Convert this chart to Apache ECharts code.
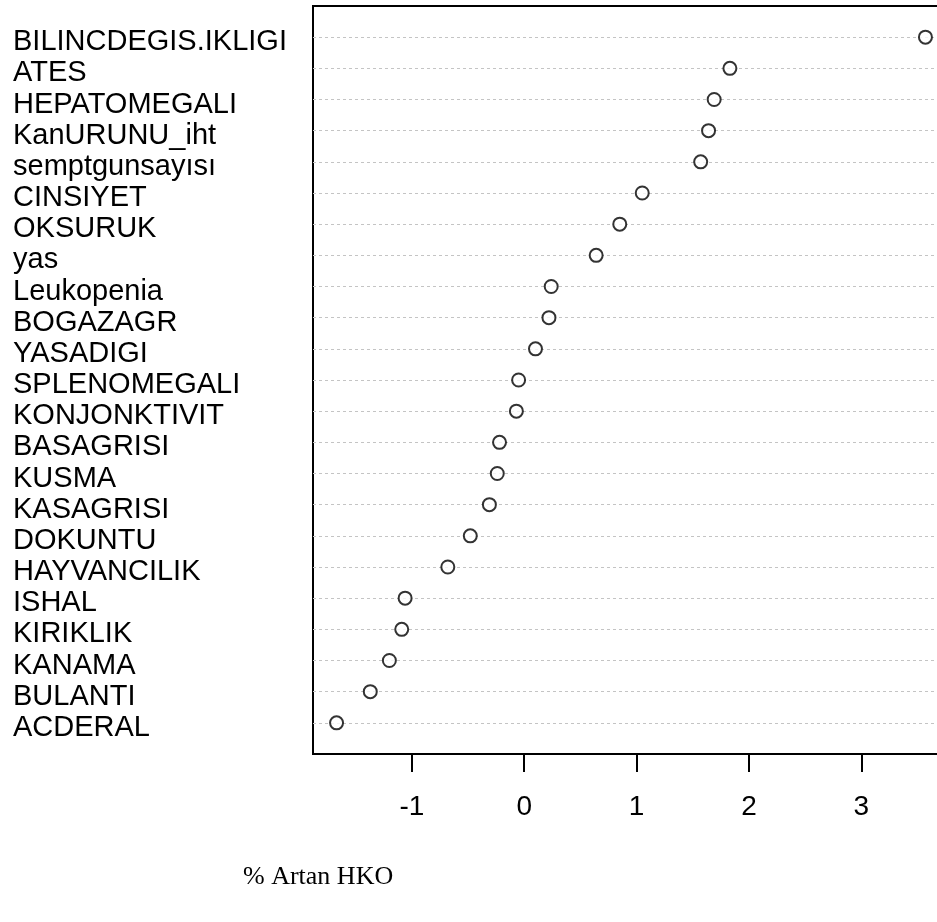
<!DOCTYPE html>
<html>
<head>
<meta charset="utf-8">
<script src="https://cdn.jsdelivr.net/npm/echarts@6/dist/echarts.min.js"></script>
<style>
  html, body { margin: 0; padding: 0; background: #ffffff; }
  #chart { width: 937px; height: 922px; }
</style>
</head>
<body>
<div id="chart"></div>
<script>
// Variables, listed bottom row first (dotchart order)
const variables = [
  'ACDERAL', 'BULANTI', 'KANAMA', 'KIRIKLIK', 'ISHAL', 'HAYVANCILIK',
  'DOKUNTU', 'KASAGRISI', 'KUSMA', 'BASAGRISI', 'KONJONKTIVIT',
  'SPLENOMEGALI', 'YASADIGI', 'BOGAZAGR', 'Leukopenia', 'yas', 'OKSURUK',
  'CINSIYET', 'semptgunsayısı', 'KanURUNU_iht', 'HEPATOMEGALI', 'ATES',
  'BILINCDEGIS.IKLIGI'
];
// % increase in HKO for each variable
const artanHKO = [
  -1.67, -1.37, -1.20, -1.09, -1.06, -0.68,
  -0.48, -0.31, -0.24, -0.22, -0.07,
  -0.05, 0.10, 0.22, 0.24, 0.64, 0.85,
  1.05, 1.57, 1.64, 1.69, 1.83,
  3.57
];
const xTicks = [-1, 0, 1, 2, 3];
const xTitle = '% Artan HKO';

// dotchart-style x range: data range padded by 4% on each side
const xMinData = Math.min(...artanHKO), xMaxData = Math.max(...artanHKO);
const pad = (xMaxData - xMinData) * 0.04;

const chart = echarts.init(document.getElementById('chart'), null, { renderer: 'canvas' });
chart.setOption({
  animation: false,
  backgroundColor: '#ffffff',
  grid: {
    left: 313, top: 6, width: 636, height: 748,
    outerBoundsMode: 'none',
    show: true, borderColor: '#000000', borderWidth: 2,
    backgroundColor: 'transparent', containLabel: false
  },
  xAxis: {
    type: 'value',
    min: xMinData - pad,
    max: xMaxData + pad,
    axisLine: { show: false },
    splitLine: { show: false },
    axisTick: {
      show: true, length: 18, inside: false,
      customValues: xTicks,
      lineStyle: { color: '#000000', width: 2 }
    },
    axisLabel: {
      customValues: xTicks,
      margin: 39,
      color: '#000000',
      fontFamily: 'Liberation Sans, Arial, sans-serif',
      fontSize: 28,
      formatter: v => String(v)
    }
  },
  yAxis: {
    type: 'value',
    min: 0, max: variables.length + 1, interval: 1,
    axisLine: { show: false },
    axisTick: { show: false },
    splitLine: {
      show: true,
      showMinLine: false,
      showMaxLine: false,
      lineStyle: { color: '#c4c4c4', width: 1, type: [3, 3] }
    },
    axisLabel: {
      show: true,
      align: 'left',
      margin: 300,
      formatter: v => (v >= 1 && v <= variables.length) ? '{n|' + variables[v - 1] + '}' : '',
      rich: {
        n: {
          color: '#000000',
          fontFamily: 'Liberation Sans, Arial, sans-serif',
          fontSize: 29,
          padding: [10, 0, 0, 0]
        }
      }
    }
  },
  graphic: [{
    type: 'text',
    left: 243, top: 864,
    style: {
      text: xTitle,
      fill: '#000000',
      font: '26px "Liberation Serif", "Times New Roman", serif'
    }
  }],
  series: [{
    type: 'scatter',
    symbol: 'circle',
    symbolSize: 13,
    itemStyle: { color: '#ffffff', borderColor: '#000000', borderWidth: 2 },
    data: artanHKO.map((v, i) => [v, i + 1]),
    z: 5
  }]
});
</script>
</body>
</html>
